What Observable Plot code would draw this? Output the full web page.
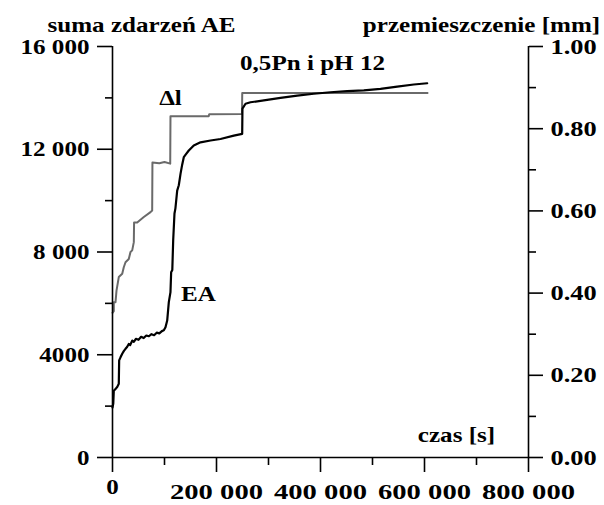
<!DOCTYPE html>
<html>
<head>
<meta charset="utf-8">
<script src="https://cdn.jsdelivr.net/npm/d3@7"></script>
<script src="https://cdn.jsdelivr.net/npm/@observablehq/plot@0.6"></script>
<style>
  html, body { margin: 0; padding: 0; background: white; }
</style>
</head>
<body>
<div id="chart"></div>
<script>
// Cumulative AE events (left axis)
const eaTime = [0, 1500, 2500, 5800, 9000, 12100, 12800, 15400, 18700, 22000, 25000, 28000, 31300, 34000, 37900, 41000, 45000, 50000, 55000, 60000, 65000, 70000, 75000, 80000, 85000, 90000, 95000, 98700, 101900, 105200, 108300, 111500, 112800, 115000, 116700, 119200, 121000, 124400, 127500, 130800, 134000, 137100, 141000, 146700, 156300, 169200, 188500, 207700, 233300, 249400, 249900, 255800, 265400, 291000, 323100, 355200, 387100, 419200, 451300, 483300, 515400, 547500, 579400, 605200];
const eaValues = [1950, 2100, 2600, 2670, 2740, 2870, 3780, 3900, 4040, 4150, 4230, 4300, 4420, 4380, 4550, 4500, 4620, 4580, 4700, 4650, 4750, 4720, 4800, 4760, 4860, 4830, 4920, 4950, 5070, 5330, 6050, 6440, 7210, 7300, 8450, 9500, 9700, 10390, 10600, 11040, 11400, 11690, 11800, 11950, 12150, 12270, 12340, 12400, 12530, 12600, 13580, 13770, 13830, 13900, 14000, 14090, 14160, 14220, 14260, 14290, 14350, 14440, 14520, 14570];

// Displacement Δl in mm (right axis)
const dlTime = [0, 2500, 2500, 5800, 7700, 12100, 18700, 21700, 25000, 31300, 34600, 37900, 41000, 41500, 47500, 60200, 73100, 76300, 76800, 90000, 100000, 111000, 111500, 185000, 186000, 249000, 249500, 605800];
const dlValues = [0.352, 0.356, 0.378, 0.378, 0.406, 0.439, 0.447, 0.463, 0.475, 0.483, 0.500, 0.504, 0.524, 0.572, 0.572, 0.585, 0.597, 0.601, 0.718, 0.716, 0.719, 0.715, 0.830, 0.830, 0.835, 0.836, 0.887, 0.887];

// Axes
const leftTicks = [0, 4000, 8000, 12000, 16000];
const leftTickLabels = ["0", "4000", "8 000", "12 000", "16 000"];
const leftMinor = [2000, 6000, 10000, 14000];
const rightTicks = [0, 0.2, 0.4, 0.6, 0.8, 1.0];
const rightTickLabels = ["0.00", "0.20", "0.40", "0.60", "0.80", "1.00"];
const rightMinor = [0.1, 0.3, 0.5, 0.7, 0.9];
const xTicks = [200000, 400000, 600000, 800000];
const xTickLabels = ["200 000", "400 000", "600 000", "800 000"];
const xMinor = [100000, 300000, 500000, 700000];
const yMax = 16000;      // left axis top
const rightMax = 1.0;    // right axis top (mm)

// Annotations
const annText = ["Δl", "EA", "0,5Pn i pH 12", "czas [s]", "suma zdarzeń AE", "przemieszczenie [mm]"];
const annX = [111500, 165400, 384600, 661500, 55800, 709600];
const annY = [14015, 6384, 15377, 895, 16820, 16820];

const k = yMax / rightMax;
const ea = eaTime.map((t, i) => ({t, v: eaValues[i]}));
const dl = dlTime.map((t, i) => ({t, v: dlValues[i] * k}));
const ann = annText.map((s, i) => ({s, x: annX[i], y: annY[i]}));

const leftMap = new Map(leftTicks.map((d, i) => [d, leftTickLabels[i]]));
const rightScaled = rightTicks.map(d => d * k);
const rightMap = new Map(rightScaled.map((d, i) => [d, rightTickLabels[i]]));
const xMap = new Map(xTicks.map((d, i) => [d, xTickLabels[i]]));

const chart = Plot.plot({
  width: 604,
  height: 505,
  marginLeft: 112,
  marginRight: 76,
  marginTop: 46,
  marginBottom: 48,
  style: {fontFamily: "'Liberation Serif', serif", fontWeight: "bold", fontSize: "22px", background: "white", color: "black"},
  x: {domain: [0, 800000]},
  y: {domain: [0, yMax]},
  marks: [
    Plot.line(dl, {x: "t", y: "v", stroke: "#6a6a6a", strokeWidth: 2}),
    Plot.line(ea, {x: "t", y: "v", stroke: "black", strokeWidth: 2.2}),
    Plot.ruleX([0, 800000], {stroke: "black", strokeWidth: 1.6}),
    Plot.ruleY([0], {stroke: "black", strokeWidth: 1.6}),
    Plot.axisY({ticks: leftTicks, tickSize: 15, tickPadding: 8, tickFormat: d => leftMap.get(d), label: null, strokeWidth: 1.6}),
    Plot.axisY({ticks: leftMinor, tickSize: 7, tickFormat: () => "", label: null, strokeWidth: 1.6}),
    Plot.axisY({anchor: "right", ticks: rightScaled, tickSize: 14, tickPadding: 8, tickFormat: d => rightMap.get(d), label: null, strokeWidth: 1.6}),
    Plot.axisY({anchor: "right", ticks: rightMinor.map(d => d * k), tickSize: 7, tickFormat: () => "", label: null, strokeWidth: 1.6}),
    Plot.axisX({ticks: xTicks, tickSize: 15, tickPadding: 11, tickFormat: d => xMap.get(d), label: null, strokeWidth: 1.6, fontSize: 22}),
    Plot.axisX({ticks: [0], tickSize: 15, tickPadding: 6, tickFormat: () => "0", label: null, strokeWidth: 1.6, fontSize: 22}),
    Plot.axisX({ticks: xMinor, tickSize: 8, tickFormat: () => "", label: null, strokeWidth: 1.6}),
    Plot.text(ann, {x: "x", y: "y", text: "s", textAnchor: "middle", lineAnchor: "middle", fill: "black"})
  ]
});

document.getElementById("chart").appendChild(chart);

// Horizontally widen the serif glyphs like the original scan
chart.querySelectorAll("text").forEach(t => {
  const s = t.textContent;
  if (!s) return;
  let f = 1.14;
  if (/^\d\.\d\d$/.test(s)) f = 1.2;
  else if (/^\d00 000$/.test(s)) f = 1.3;
  const w = t.getComputedTextLength();
  if (w > 0) {
    t.setAttribute("textLength", (w * f).toFixed(1));
    t.setAttribute("lengthAdjust", "spacingAndGlyphs");
  }
});
</script>
</body>
</html>
